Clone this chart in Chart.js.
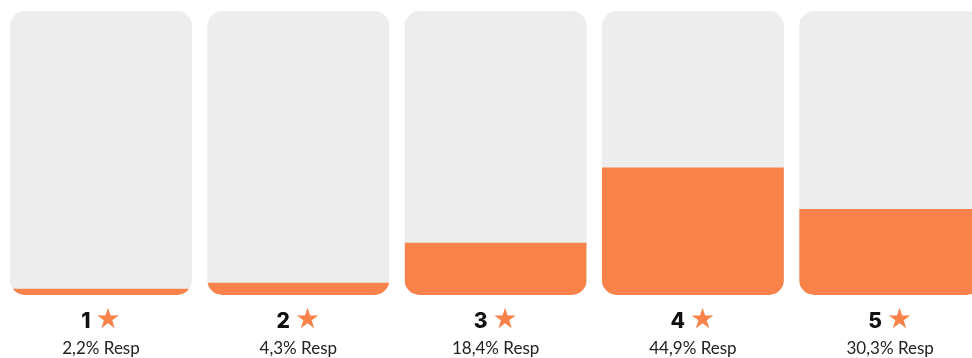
<!DOCTYPE html>
<html>
<head>
<meta charset="utf-8">
<script src="https://cdn.jsdelivr.net/npm/chart.js@4/dist/chart.umd.min.js"></script>
<style>
  html, body { margin: 0; padding: 0; background: #ffffff; overflow: hidden; }
  body { width: 972px; height: 358px; }
  #wrap { position: relative; width: 992px; height: 358px; }
</style>
</head>
<body>
<div id="wrap"><canvas id="c"></canvas></div>
<script>
// Star ratings and share of responses (%)
const ratings = ['1', '2', '3', '4', '5'];
const responseShare = [2.2, 4.3, 18.4, 44.9, 30.3];
const trackValues = [100, 100, 100, 100, 100];

const ORANGE = '#F8824A';
const TRACK = '#EDEDED';
const RADIUS = 15;

// Clip the orange bars to the rounded track shapes behind them
const clipToTrack = {
  id: 'clipToTrack',
  beforeDatasetDraw(chart, args) {
    if (args.index !== 1) return;
    const ctx = chart.ctx;
    const track = chart.getDatasetMeta(0).data;
    ctx.save();
    ctx.beginPath();
    track.forEach(el => {
      const { x, y, base, width } = el.getProps(['x', 'y', 'base', 'width'], true);
      ctx.roundRect(x - width / 2, y, width, base - y, RADIUS);
    });
    ctx.clip();
  },
  afterDatasetDraw(chart, args) {
    if (args.index !== 1) return;
    chart.ctx.restore();
  }
};

// Two-line caption under each column: "N ★" and "x,x% Resp"
const captions = {
  id: 'captions',
  afterDraw(chart) {
    const ctx = chart.ctx;
    const xScale = chart.scales.x;
    const bottom = chart.chartArea.bottom;
    ctx.save();
    ratings.forEach((r, i) => {
      const cx = xScale.getPixelForValue(i);
      const numFont = '800 21px Inter, "Open Sans", sans-serif';
      const starFont = '28px "DejaVu Sans", sans-serif';
      ctx.font = numFont;
      const wNum = ctx.measureText(r).width;
      const gap = 5;
      ctx.font = starFont;
      const wStar = ctx.measureText('★').width;
      const start = cx - (wNum + gap + wStar) / 2;
      const y1 = bottom + 27;
      ctx.textBaseline = 'middle';
      ctx.textAlign = 'left';
      ctx.font = numFont;
      ctx.fillStyle = '#111111';
      ctx.fillText(r, start, y1);
      ctx.font = starFont;
      ctx.fillStyle = ORANGE;
      ctx.fillText('★', start + wNum + gap, y1 - 1);

      ctx.font = '17px Lato, "DejaVu Sans", sans-serif';
      ctx.fillStyle = '#222222';
      ctx.textAlign = 'center';
      const share = responseShare[i].toFixed(1).replace('.', ',') + '% Resp';
      ctx.fillText(share, cx, bottom + 54);
    });
    ctx.restore();
  }
};

new Chart(document.getElementById('c'), {
  type: 'bar',
  data: {
    labels: ratings,
    datasets: [
      {
        data: trackValues,
        backgroundColor: TRACK,
        borderRadius: RADIUS,
        borderSkipped: false,
        grouped: false,
        order: 2
      },
      {
        data: responseShare,
        backgroundColor: ORANGE,
        borderRadius: 0,
        grouped: false,
        order: 1
      }
    ]
  },
  options: {
    responsive: true,
    maintainAspectRatio: false,
    animation: false,
    datasets: {
      bar: { categoryPercentage: 1, barPercentage: 0.9225 }
    },
    layout: { padding: { left: 2.35, right: 3.15, top: 11, bottom: 63 } },
    plugins: {
      legend: { display: false },
      tooltip: { enabled: false }
    },
    scales: {
      x: { display: false },
      y: { display: false, min: 0, max: 100 }
    }
  },
  plugins: [clipToTrack, captions]
});
</script>
</body>
</html>
